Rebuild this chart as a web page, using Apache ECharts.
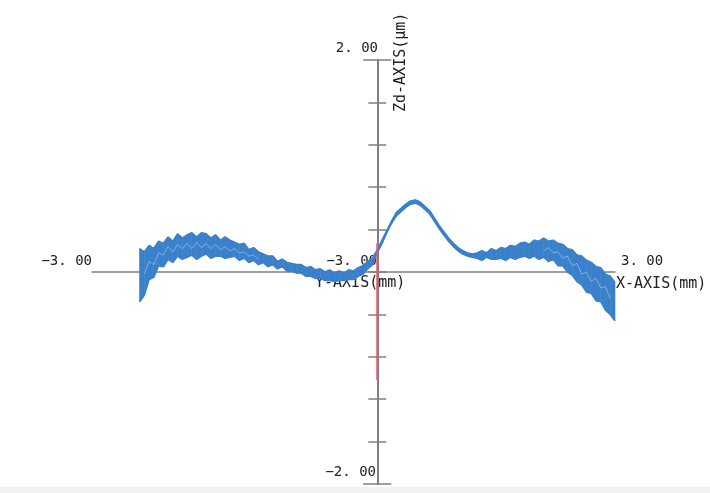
<!DOCTYPE html>
<html>
<head>
<meta charset="UTF-8">
<title>Zd profile</title>
<script src="https://cdn.jsdelivr.net/npm/echarts@6/dist/echarts.min.js"></script>
<style>html,body{margin:0;padding:0;background:#fff;} #main{width:710px;height:493px;}</style>
</head>
<body>
<div id="main"></div>
<script>
// scan positions (mm)
var xs = [-2.50,-2.45,-2.40,-2.35,-2.30,-2.25,-2.20,-2.15,-2.10,-2.05,
          -2.00,-1.95,-1.90,-1.85,-1.80,-1.75,-1.70,-1.65,-1.60,-1.55,
          -1.50,-1.45,-1.40,-1.35,-1.30,-1.25,-1.20,-1.15,-1.10,-1.05,
          -1.00,-0.95,-0.90,-0.85,-0.80,-0.75,-0.70,-0.65,-0.60,-0.55,
          -0.50,-0.45,-0.40,-0.35,-0.30,-0.25,-0.20,-0.15,-0.10,-0.05,
           0.00, 0.05, 0.10, 0.15, 0.20, 0.25, 0.30, 0.35, 0.40, 0.45,
           0.50, 0.55, 0.60, 0.65, 0.70, 0.75, 0.80, 0.85, 0.90, 0.95,
           1.00, 1.05, 1.10, 1.15, 1.20, 1.25, 1.30, 1.35, 1.40, 1.45,
           1.50, 1.55, 1.60, 1.65, 1.70, 1.75, 1.80, 1.85, 1.90, 1.95,
           2.00, 2.05, 2.10, 2.15, 2.20, 2.25, 2.30, 2.35, 2.40, 2.45,
           2.50];

// upper and lower edge of the noisy Zd trace (um)
var zdTop = [0.22,0.19,0.25,0.22,0.29,0.27,0.33,0.29,0.36,0.32,
             0.35,0.37,0.33,0.37,0.36,0.32,0.35,0.30,0.33,0.30,
             0.28,0.26,0.27,0.21,0.23,0.19,0.17,0.15,0.15,0.10,
             0.12,0.09,0.08,0.07,0.07,0.04,0.05,0.02,0.03,0.00,
             0.02,-0.01,0.01,-0.01,0.02,0.01,0.04,0.06,0.10,0.13,
             0.21,0.30,0.39,0.48,0.56,0.60,0.64,0.67,0.68,0.66,
             0.62,0.58,0.51,0.44,0.38,0.32,0.27,0.23,0.20,0.18,
             0.17,0.18,0.20,0.18,0.22,0.20,0.23,0.22,0.25,0.24,
             0.27,0.28,0.26,0.30,0.29,0.32,0.29,0.30,0.27,0.26,
             0.22,0.21,0.16,0.15,0.11,0.09,0.05,0.04,-0.02,-0.04,
             -0.10];
var zdBot = [-0.28,-0.22,-0.07,-0.05,0.06,0.05,0.12,0.09,0.15,0.12,
             0.14,0.16,0.12,0.15,0.17,0.13,0.15,0.15,0.13,0.14,
             0.15,0.11,0.13,0.09,0.11,0.07,0.09,0.05,0.07,0.03,
             0.05,0.01,0.01,-0.01,-0.01,-0.04,-0.04,-0.06,-0.06,-0.08,
             -0.08,-0.09,-0.08,-0.08,-0.07,-0.07,-0.04,-0.02,0.03,0.07,
             0.18,0.27,0.37,0.46,0.53,0.57,0.61,0.64,0.65,0.63,
             0.59,0.55,0.48,0.41,0.35,0.29,0.24,0.20,0.17,0.15,
             0.14,0.13,0.11,0.14,0.12,0.12,0.13,0.11,0.14,0.12,
             0.14,0.15,0.13,0.15,0.12,0.14,0.10,0.12,0.06,0.06,
             0.00,-0.03,-0.09,-0.12,-0.19,-0.20,-0.27,-0.28,-0.36,-0.40,
             -0.46];
// a second repeat pass showing as a lighter streak inside the band
var zdPass = [null,-0.02,0.10,0.07,0.18,0.16,0.24,0.19,0.26,0.22,
              0.27,0.22,0.28,0.23,0.27,0.22,0.26,0.21,0.24,0.20,
              0.22,0.18,0.19,0.15,0.16,0.12,null,null,null,null,
              null,null,null,null,null,null,null,null,null,null,
              null,null,null,null,null,null,null,null,null,null,
              null,null,null,null,null,null,null,null,null,null,
              null,null,null,null,null,null,null,null,null,null,
              null,null,null,null,null,null,null,null,null,null,
              null,null,null,null,null,0.20,0.23,0.18,0.19,0.13,
              0.15,0.06,0.08,-0.02,0.00,-0.09,-0.06,-0.15,-0.14,-0.25,
              null];

// Y-AXIS section (red)
var redX = [0.0, 0.0];
var redZ = [0.27, -1.02];

var txtFont = '14px "DejaVu Sans Mono"';
var lblFont = '15px "DejaVu Sans Mono"';
var txtColor = '#222';
var axisColor = '#808080';
var blue = '#3a80ca';

function pairs(a, b) {
    return a.map(function (x, i) { return [x, b[i]]; });
}

// band segments: [x0, top0, bot0, x1, top1, bot1]
var segs = [];
for (var i = 0; i < xs.length - 1; i++) {
    segs.push([xs[i], zdTop[i], zdBot[i], xs[i + 1], zdTop[i + 1], zdBot[i + 1]]);
}

var myChart = echarts.init(document.getElementById('main'));

var yBase = {
    type: 'value', min: -2, max: 2, interval: 0.4,
    axisLine: { show: true, onZero: true, onZeroAxisIndex: 0, lineStyle: { color: axisColor, width: 1.5 } },
    axisTick: { show: true, length: 9, lineStyle: { color: axisColor, width: 1.5 } },
    axisLabel: { show: false },
    splitLine: { show: false }
};

var option = {
    backgroundColor: '#fff',
    animation: false,
    grid: { left: 92, right: 95, top: 60, bottom: 9 },
    xAxis: {
        type: 'value', min: -3, max: 2.5,
        axisLine: { show: true, onZero: true, onZeroAxisIndex: 0, lineStyle: { color: axisColor, width: 1.5 } },
        axisTick: { show: false },
        axisLabel: { show: false },
        splitLine: { show: false }
    },
    yAxis: [
        echarts.util.merge({ position: 'left' }, yBase, true),
        echarts.util.merge({ position: 'right' }, yBase, true),
        echarts.util.merge({ position: 'left', interval: 4, axisTick: { length: 14 } }, yBase),
        echarts.util.merge({ position: 'right', interval: 4, axisTick: { length: 14 } }, yBase)
    ],
    graphic: [
        { type: 'rect', shape: { x: 0, y: 487, width: 710, height: 6 }, style: { fill: '#f1f1f1' }, z: -1 },
        { type: 'text', x: 378, y: 48, style: { text: '2. 00', font: txtFont, fill: txtColor, align: 'right', verticalAlign: 'middle' } },
        { type: 'text', x: 376, y: 472, style: { text: '−2. 00', font: txtFont, fill: txtColor, align: 'right', verticalAlign: 'middle' } },
        { type: 'text', x: 92, y: 261, style: { text: '−3. 00', font: txtFont, fill: txtColor, align: 'right', verticalAlign: 'middle' } },
        { type: 'text', x: 377, y: 261, style: { text: '−3. 00', font: txtFont, fill: txtColor, align: 'right', verticalAlign: 'middle' } },
        { type: 'text', x: 621, y: 261, style: { text: '3. 00', font: txtFont, fill: txtColor, align: 'left', verticalAlign: 'middle' } },
        { type: 'text', x: 315, y: 283, style: { text: 'Y-AXIS(mm)', font: lblFont, fill: txtColor, align: 'left', verticalAlign: 'middle' } },
        { type: 'text', x: 616, y: 284, style: { text: 'X-AXIS(mm)', font: lblFont, fill: txtColor, align: 'left', verticalAlign: 'middle' } },
        { type: 'text', x: 401, y: 112, rotation: Math.PI / 2, style: { text: 'Zd-AXIS(μm)', font: lblFont, fill: txtColor, align: 'left', verticalAlign: 'middle' } }
    ],
    series: [
        {
            name: 'band', type: 'custom', z: 3,
            encode: { x: [0, 3], y: [1, 2, 4, 5] },
            renderItem: function (params, api) {
                var a = api.coord([api.value(0), api.value(1)]);
                var b = api.coord([api.value(3), api.value(4)]);
                var c = api.coord([api.value(3), api.value(5)]);
                var d = api.coord([api.value(0), api.value(2)]);
                return {
                    type: 'polygon',
                    shape: { points: [a, b, c, d] },
                    style: { fill: blue, stroke: blue, lineWidth: 0.6 }
                };
            },
            data: segs
        },
        {
            name: 'lower', type: 'line', symbol: 'none', z: 3,
            lineStyle: { color: blue, width: 1.6 },
            data: pairs(xs, zdBot)
        },
        {
            name: 'upper', type: 'line', symbol: 'none', z: 3,
            lineStyle: { color: blue, width: 1.6 },
            data: pairs(xs, zdTop)
        },
        {
            name: 'pass', type: 'line', symbol: 'none', z: 4,
            lineStyle: { color: '#8fbbe8', width: 1, opacity: 0.8 },
            data: pairs(xs, zdPass)
        },
        {
            name: 'Y-AXIS', type: 'line', symbol: 'none', z: 5,
            lineStyle: { color: '#e4566c', width: 2 },
            data: pairs(redX, redZ)
        }
    ]
};
myChart.setOption(option);
</script>
</body>
</html>
